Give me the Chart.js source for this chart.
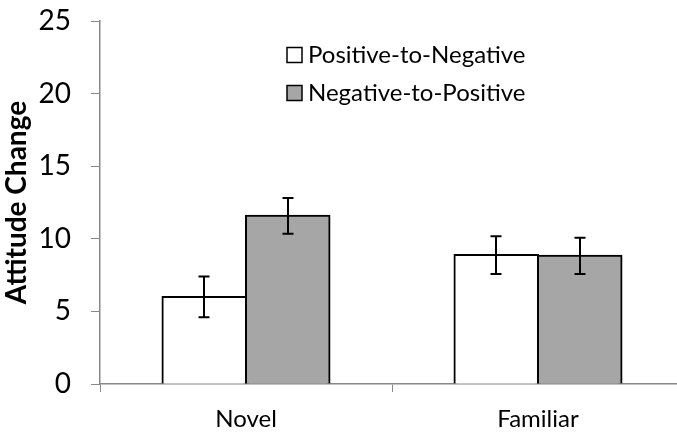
<!DOCTYPE html>
<html>
<head>
<meta charset="utf-8">
<script src="https://cdn.jsdelivr.net/npm/chart.js@4"></script>
<style>
  html, body { margin: 0; padding: 0; background: #fff; overflow: hidden; }
  #wrap { width: 690px; height: 435px; }
</style>
</head>
<body>
<div id="wrap"><canvas id="c" width="690" height="435"></canvas></div>
<script>
const categories = ['Novel', 'Familiar'];
const seriesNames = ['Positive-to-Negative', 'Negative-to-Positive'];
const posToNeg = [6.0, 8.88];
const negToPos = [11.58, 8.83];
const posToNegErr = [1.4, 1.3];
const negToPosErr = [1.23, 1.25];
const yTicks = [0, 5, 10, 15, 20, 25];

const FONT = 'Lato';

const errorBarPlugin = {
  id: 'errorBars',
  afterDatasetsDraw(chart) {
    const ctx = chart.ctx;
    const y = chart.scales.y;
    ctx.save();
    ctx.strokeStyle = '#000';
    ctx.lineWidth = 2;
    chart.data.datasets.forEach((ds, di) => {
      const meta = chart.getDatasetMeta(di);
      meta.data.forEach((bar, i) => {
        const v = ds.data[i], e = ds.errors[i];
        const x = Math.round(bar.x);
        const yt = y.getPixelForValue(v + e);
        const yb = y.getPixelForValue(v - e);
        const cap = 5.5;
        ctx.beginPath();
        ctx.moveTo(x, yt); ctx.lineTo(x, yb);
        ctx.moveTo(x - cap, yt); ctx.lineTo(x + cap, yt);
        ctx.moveTo(x - cap, yb); ctx.lineTo(x + cap, yb);
        ctx.stroke();
      });
    });
    ctx.restore();
  }
};

const legendPlugin = {
  id: 'customLegend',
  afterDraw(chart) {
    const ctx = chart.ctx;
    ctx.save();
    const x0 = 287, rows = [55, 93], box = 15;
    chart.data.datasets.forEach((ds, i) => {
      const cy = rows[i];
      ctx.fillStyle = ds.backgroundColor;
      ctx.fillRect(x0, cy - box / 2, box, box);
      ctx.strokeStyle = '#000';
      ctx.lineWidth = 1.5;
      ctx.strokeRect(x0, cy - box / 2, box, box);
      ctx.fillStyle = '#000';
      ctx.font = '24px ' + FONT;
      ctx.textBaseline = 'middle';
      ctx.textAlign = 'left';
      ctx.fillText(ds.label, x0 + 21, cy);
    });
    ctx.restore();
  }
};

new Chart(document.getElementById('c'), {
  type: 'bar',
  data: {
    labels: categories,
    datasets: [
      { label: seriesNames[0], data: posToNeg, errors: posToNegErr,
        backgroundColor: '#ffffff', borderColor: '#000', borderWidth: 2, inflateAmount: 1 },
      { label: seriesNames[1], data: negToPos, errors: negToPosErr,
        backgroundColor: '#a6a6a6', borderColor: '#000', borderWidth: 2, inflateAmount: 1 }
    ]
  },
  options: {
    responsive: false,
    animation: false,
    devicePixelRatio: 1,
    layout: { padding: { top: 21, right: 6, left: 0, bottom: 0 } },
    datasets: { bar: { categoryPercentage: 0.572, barPercentage: 1.0 } },
    plugins: { legend: { display: false }, tooltip: { enabled: false } },
    scales: {
      x: {
        grid: { drawOnChartArea: false, drawTicks: true, tickLength: 8, color: '#888', offset: true },
        border: { color: '#888', width: 1.5 },
        ticks: { color: '#000', font: { family: FONT, size: 24 }, padding: 13 },
        afterFit(s) { s.height = 51; s.paddingLeft = 0; s.paddingRight = 0; }
      },
      y: {
        min: 0, max: 25,
        afterBuildTicks(s) { s.ticks = yTicks.map(v => ({ value: v })); },
        grid: { drawOnChartArea: false, drawTicks: true, tickLength: 9, color: '#888' },
        border: { color: '#888', width: 1.5 },
        ticks: { color: '#000', font: { family: FONT, size: 28 }, padding: 20 },
        title: { display: true, text: 'Attitude Change', color: '#000',
                 font: { family: FONT, size: 28, weight: 'bold' }, padding: 0 },
        afterFit(s) { s.width = 100; s.paddingTop = 0; s.paddingBottom = 0; }
      }
    }
  },
  plugins: [errorBarPlugin, legendPlugin]
});
</script>
</body>
</html>
